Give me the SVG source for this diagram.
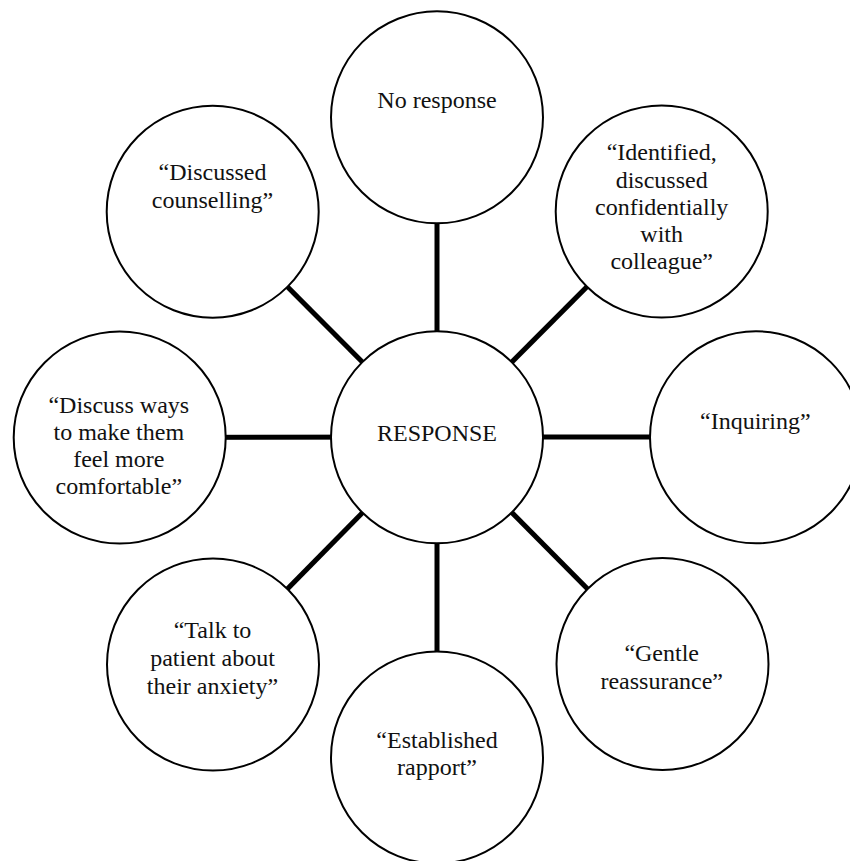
<svg xmlns="http://www.w3.org/2000/svg" width="850" height="861" viewBox="0 0 850 861">
<style>
.node circle{fill:#fff;stroke:#000;stroke-width:2}
.node text{font-family:"Liberation Serif","Times New Roman",serif;font-size:24px;fill:#111;text-anchor:middle}
#connectors line{stroke:#000;stroke-width:5}
</style>
<rect width="850" height="861" fill="#fff"/>
<g id="connectors">
<line x1="437" y1="437" x2="437" y2="117"/>
<line x1="437" y1="437" x2="662" y2="211.5"/>
<line x1="437" y1="437" x2="756" y2="437"/>
<line x1="437" y1="437" x2="662" y2="664"/>
<line x1="437" y1="437" x2="437" y2="757.5"/>
<line x1="437" y1="437" x2="213" y2="664.5"/>
<line x1="437" y1="437" x2="119.5" y2="437.5"/>
<line x1="437" y1="437" x2="212.7" y2="211.7"/>
</g>
<g id="center" class="node"><circle cx="437" cy="437.3" r="106"/><text x="437" y="441">RESPONSE</text></g>
<g id="no-response" class="node"><circle cx="437" cy="117.3" r="106"/><text x="437" y="108">No response</text></g>
<g id="identified" class="node"><circle cx="661.7" cy="211.5" r="106"/><text x="661.7" y="160">“Identified,</text><text x="661.7" y="187.5">discussed</text><text x="661.7" y="214.5">confidentially</text><text x="661.7" y="241.5">with</text><text x="661.7" y="269">colleague”</text></g>
<g id="inquiring" class="node"><circle cx="756" cy="437.3" r="106"/><text x="755.3" y="428.5">“Inquiring”</text></g>
<g id="gentle" class="node"><circle cx="662.5" cy="664" r="106"/><text x="661.7" y="661">“Gentle</text><text x="661.7" y="688.5">reassurance”</text></g>
<g id="established" class="node"><circle cx="437" cy="757.5" r="106"/><text x="437" y="748">“Established</text><text x="437" y="775">rapport”</text></g>
<g id="talk" class="node"><circle cx="213" cy="664.5" r="106"/><text x="212.5" y="638">“Talk to</text><text x="212.5" y="666">patient about</text><text x="212.5" y="693.5">their anxiety”</text></g>
<g id="discuss-ways" class="node"><circle cx="119.7" cy="437.5" r="106"/><text x="118.8" y="412.5">“Discuss ways</text><text x="118.8" y="439.5">to make them</text><text x="118.8" y="467">feel more</text><text x="118.8" y="494">comfortable”</text></g>
<g id="counselling" class="node"><circle cx="212.7" cy="211.7" r="106"/><text x="212.5" y="180">“Discussed</text><text x="212.5" y="207.7">counselling”</text></g>
</svg>
